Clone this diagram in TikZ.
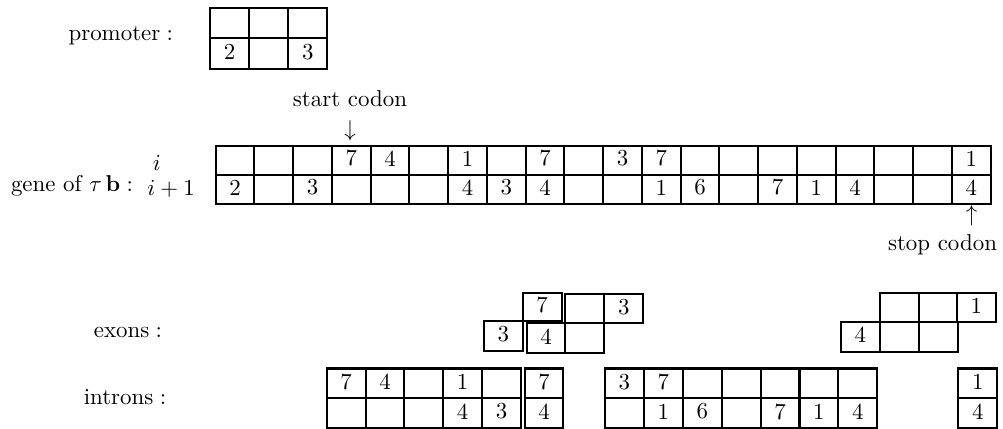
\documentclass[tikz,border=0pt]{standalone}
\tikzset{
  cell/.style={line width=0.9pt},
  num/.style={inner sep=0pt},
  lbl/.style={inner sep=0pt},
}
\newcommand\blk[5]{% x0 y0 cw ch n  (two rows)
  \def\bx{#1}\def\by{#2}\def\bw{#3}\def\bh{#4}%
  \draw[cell] (#1,#2) rectangle ({#1+#5*#3},{#2+2*#4});
  \draw[cell] (#1,{#2+#4}) -- ({#1+#5*#3},{#2+#4});
  \ifnum#5>1
    \foreach \k in {2,...,#5}{\draw[cell] ({#1+(\k-1)*#3},#2) -- ({#1+(\k-1)*#3},{#2+2*#4});}
  \fi
}
\newcommand\rowblk[5]{% x0 y0 cw ch n  (one row)
  \def\bx{#1}\def\by{#2}\def\bw{#3}\def\bh{#4}%
  \draw[cell] (#1,#2) rectangle ({#1+#5*#3},{#2+#4});
  \ifnum#5>1
    \foreach \k in {2,...,#5}{\draw[cell] ({#1+(\k-1)*#3},#2) -- ({#1+(\k-1)*#3},{#2+#4});}
  \fi
}
\newcommand\dg[4]{\node[num] (#1) at ({\bx+(#2+0.5)*\bw},{\by+(#3+0.44)*\bh}) {#4};}
\begin{document}
\begin{tikzpicture}[x=0.4366pt,y=-0.4366pt]
\useasboundingbox (0,0) rectangle (1003,429);

% labels
\node[lbl, anchor=base east] (lprom) at (173.5,41) {$\mbox{promoter}:$};
\node[lbl, anchor=base east] (lgene) at (133.5,192) {$\mbox{gene of }\tau\,\mathbf{b}:$};
\node[lbl, anchor=base west] (li) at (152.5,171) {$i$};
\node[lbl, anchor=base west] (li1) at (147,196) {$i+1$};
\node[lbl, anchor=base] (start) at (350,107) {start codon};
\node[lbl] (darr) at (350,131) {$\downarrow$};
\node[lbl, anchor=base] (stop) at (942.5,250) {stop codon};
\node[lbl] (uarr) at (971.7,215.5) {$\uparrow$};
\node[lbl, anchor=base] (lex) at (128,337) {$\mbox{exons}:$};
\node[lbl, anchor=base] (lin) at (125,404) {$\mbox{introns}:$};

% promoter
\blk{210}{7.7}{39.1}{30.65}{3}
\dg{p1}{0}{1}{2}
\dg{p3}{2}{1}{3}

% gene
\blk{215.7}{145.7}{38.75}{29}{20}
\dg{gt3}{3}{0}{7}
\dg{gt4}{4}{0}{4}
\dg{gt6}{6}{0}{1}
\dg{gt8}{8}{0}{7}
\dg{gt10}{10}{0}{3}
\dg{gt11}{11}{0}{7}
\dg{gt19}{19}{0}{1}
\dg{gb0}{0}{1}{2}
\dg{gb2}{2}{1}{3}
\dg{gb6}{6}{1}{4}
\dg{gb7}{7}{1}{3}
\dg{gb8}{8}{1}{4}
\dg{gb11}{11}{1}{1}
\dg{gb12}{12}{1}{6}
\dg{gb14}{14}{1}{7}
\dg{gb15}{15}{1}{1}
\dg{gb16}{16}{1}{4}
\dg{gb19}{19}{1}{4}

% exons
\rowblk{522.7}{292.7}{39}{28}{1}
\dg{eA}{0}{0}{7}
\rowblk{565}{294.3}{39.15}{29}{2}
\dg{eB}{1}{0}{3}
\rowblk{484}{321}{38.7}{29.7}{1}
\dg{eC}{0}{0}{3}
\rowblk{526.7}{323.3}{38.65}{30}{2}
\dg{eD}{0}{0}{4}
\rowblk{880}{293.3}{38.57}{28.4}{3}
\dg{eE1}{2}{0}{1}
\rowblk{841}{321.7}{38.9}{30.6}{3}
\dg{eE2}{0}{0}{4}

% introns
\blk{326.7}{368.5}{38.86}{29.9}{5}
\dg{i1a}{0}{0}{7}
\dg{i1b}{1}{0}{4}
\dg{i1c}{3}{0}{1}
\dg{i1d}{3}{1}{4}
\dg{i1e}{4}{1}{3}
\blk{525}{368.5}{38.3}{29.9}{1}
\dg{i2a}{0}{0}{7}
\dg{i2b}{0}{1}{4}
\blk{605}{368.5}{38.9}{29.9}{7}
\dg{i3a}{0}{0}{3}
\dg{i3b}{1}{0}{7}
\dg{i3c}{1}{1}{1}
\dg{i3d}{2}{1}{6}
\dg{i3e}{4}{1}{7}
\dg{i3f}{5}{1}{1}
\dg{i3g}{6}{1}{4}
\blk{958.3}{368.5}{39}{29.9}{1}
\dg{i4a}{0}{0}{1}
\dg{i4b}{0}{1}{4}
\end{tikzpicture}
\end{document}
